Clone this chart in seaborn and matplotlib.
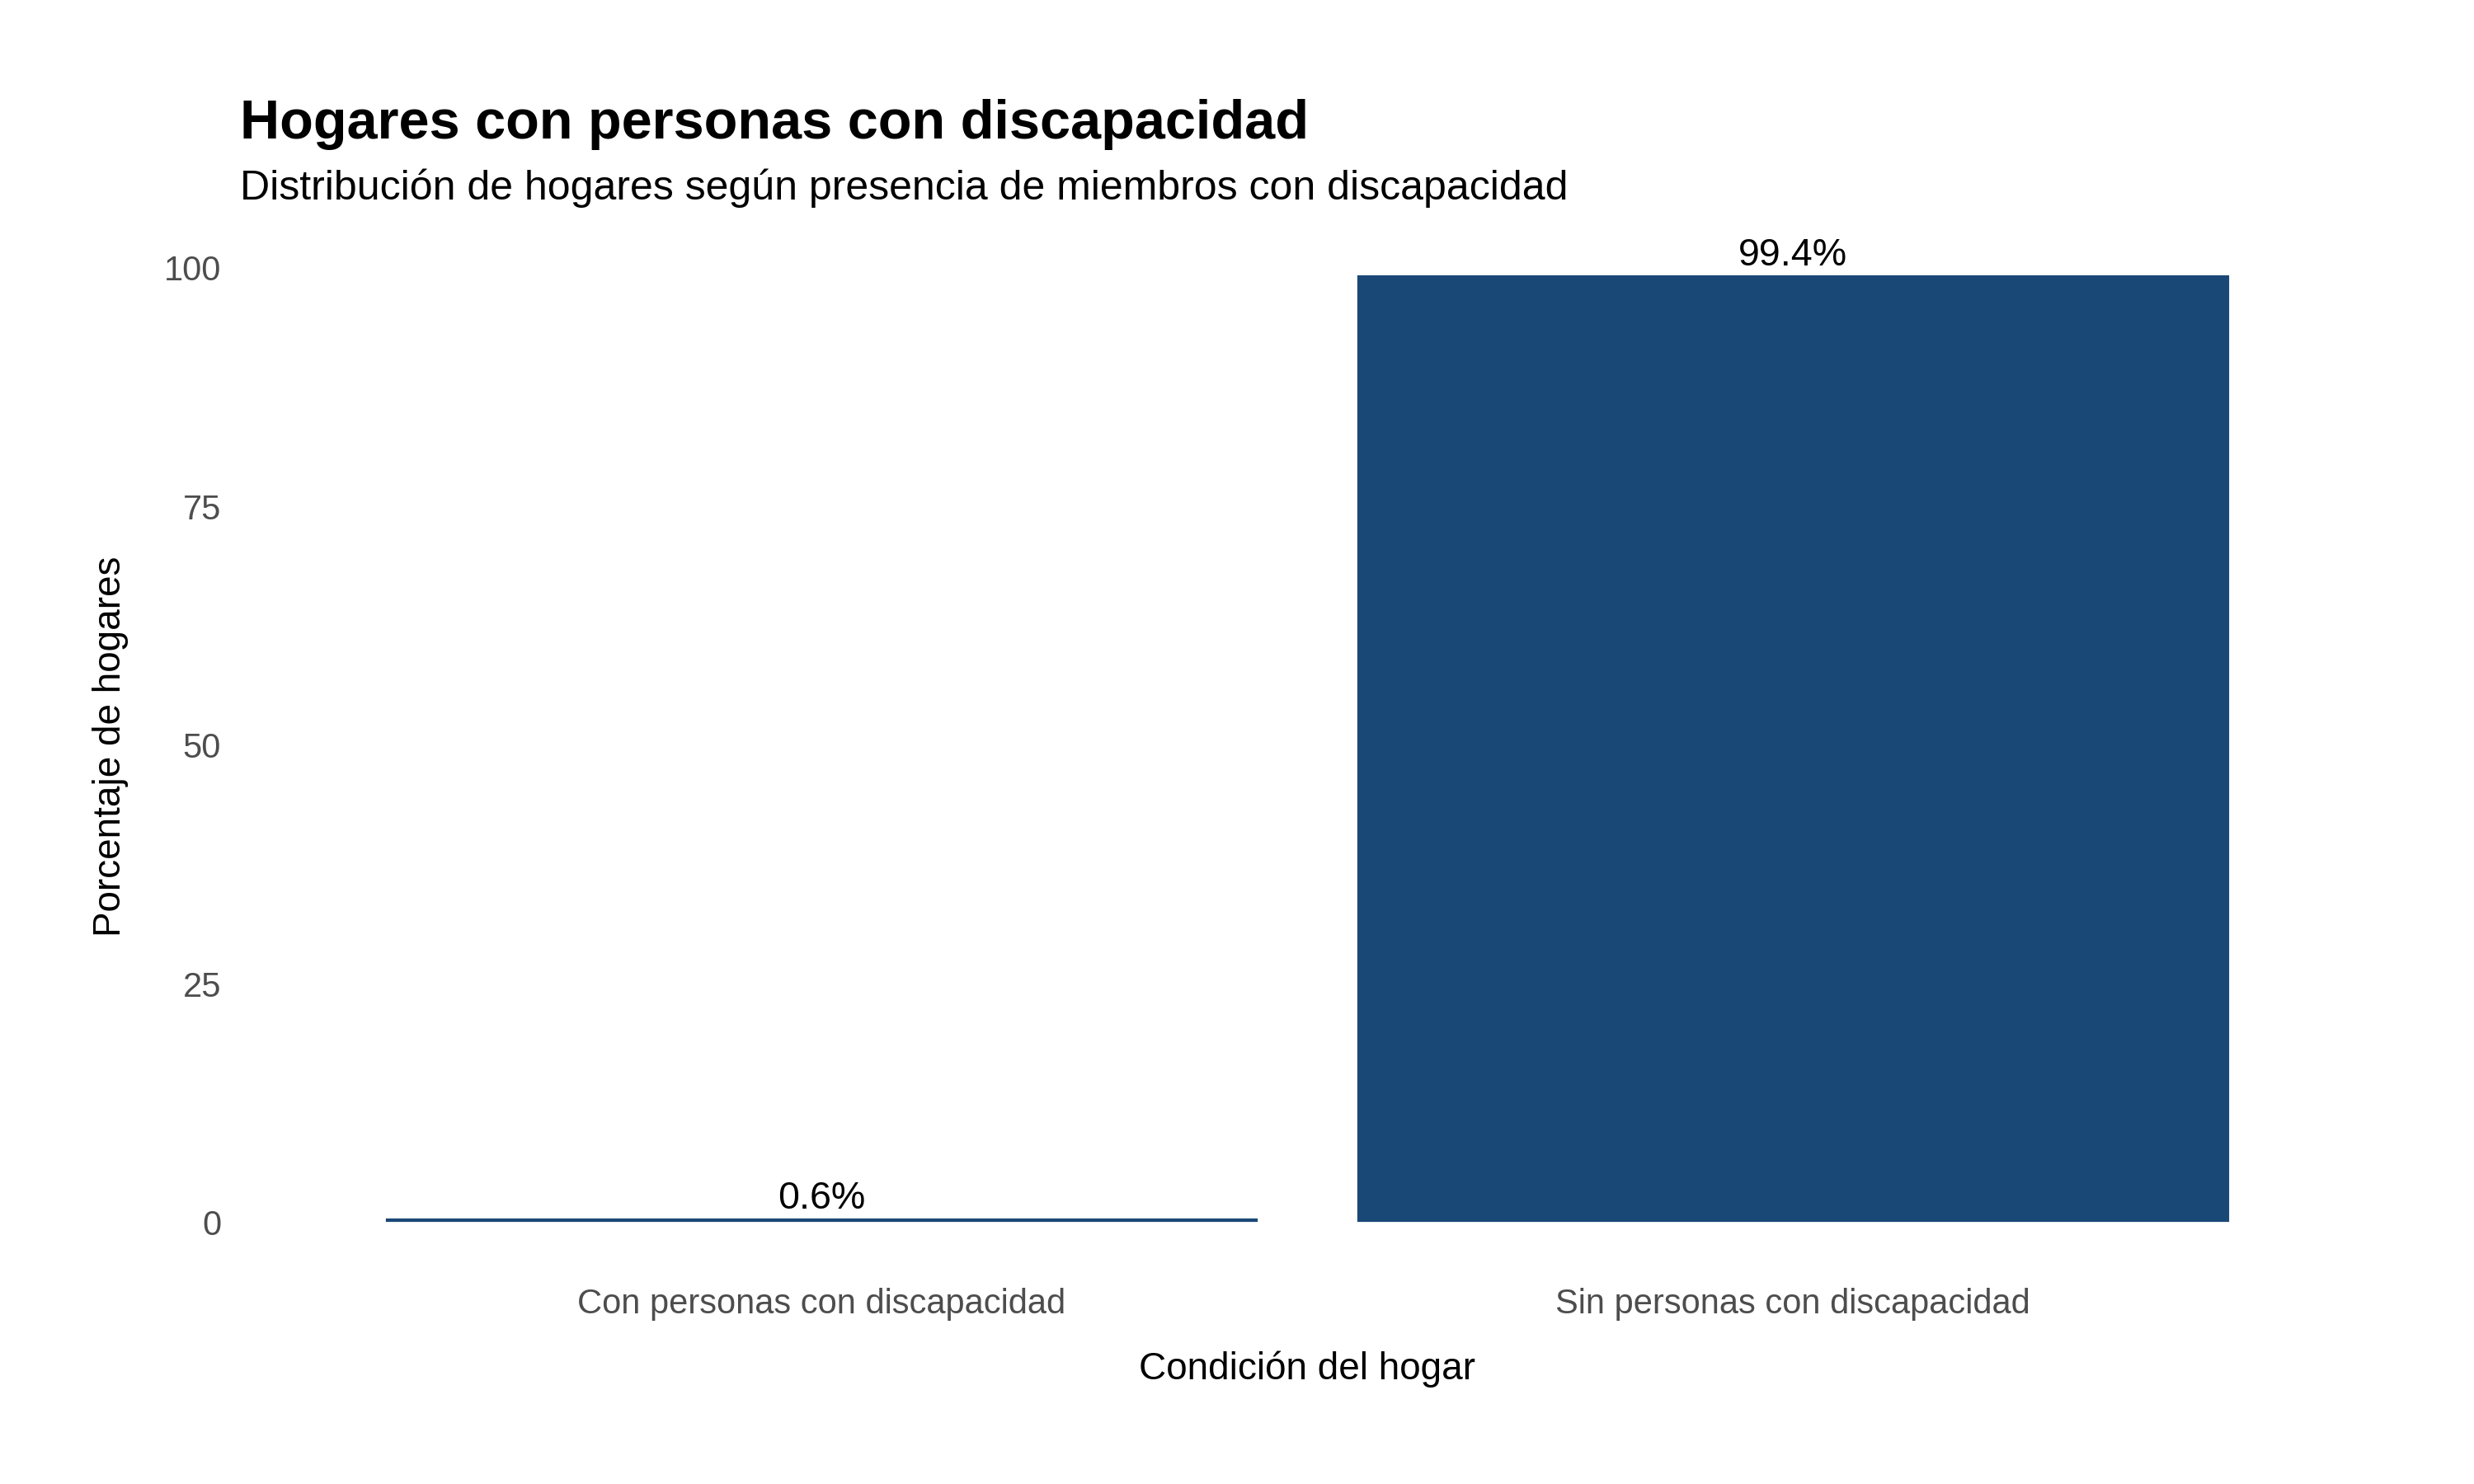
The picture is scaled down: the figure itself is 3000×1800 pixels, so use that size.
import pandas as pd
import seaborn as sns
import matplotlib.pyplot as plt

sns.set_theme(style="white")
plt.rcParams["font.family"] = ["Liberation Sans", "DejaVu Sans"]

# Data
condicion = ["Con personas con discapacidad", "Sin personas con discapacidad"]
porcentaje = [0.6, 99.4]
df = pd.DataFrame({"condicion": condicion, "porcentaje": porcentaje})

bar_color = "#1A4876"
tick_color = "#4D4D4D"

fig = plt.figure(figsize=(15, 9), dpi=200)
ax = fig.add_axes([289 / 3000, 0.1442, 2592 / 3000, 0.7034])

sns.barplot(data=df, x="condicion", y="porcentaje", color=bar_color,
            width=0.9, saturation=1, ax=ax)

# labels above bars
for cont in ax.containers:
    ax.bar_label(cont, labels=[f"{v:.1f}%" for v in df["porcentaje"]],
                 padding=0, fontsize=16.8, color="black")

ax.set_xlim(-0.6, 1.6)
ax.set_ylim(-0.05 * 99.4, 99.4 * 1.05)
ax.set_yticks([0, 25, 50, 75, 100])

sns.despine(ax=ax, left=True, bottom=True)
ax.grid(False)
ax.tick_params(axis="both", length=0, labelsize=15, labelcolor=tick_color)
ax.tick_params(axis="x", pad=7.7)
ax.tick_params(axis="y", pad=7.5)

ax.set_xlabel("")
ax.set_ylabel("")
fig.text(1585 / 3000, 1 - 1673 / 1800, "Condición del hogar", ha="center",
         va="baseline", fontsize=16.5, color="black")
fig.text(134 / 3000, 1 - 905 / 1800, "Porcentaje de hogares", ha="center",
         va="center", rotation=90, fontsize=16.5, color="black")

# Title and subtitle
fig.text(291 / 3000, 1 - 168 / 1800, "Hogares con personas con discapacidad",
         ha="left", va="baseline", fontsize=24, fontweight="bold", color="black")
fig.text(291 / 3000, 1 - 242 / 1800,
         "Distribución de hogares según presencia de miembros con discapacidad",
         ha="left", va="baseline", fontsize=18, color="black")

fig.savefig("out.png", dpi=200, facecolor="white")
